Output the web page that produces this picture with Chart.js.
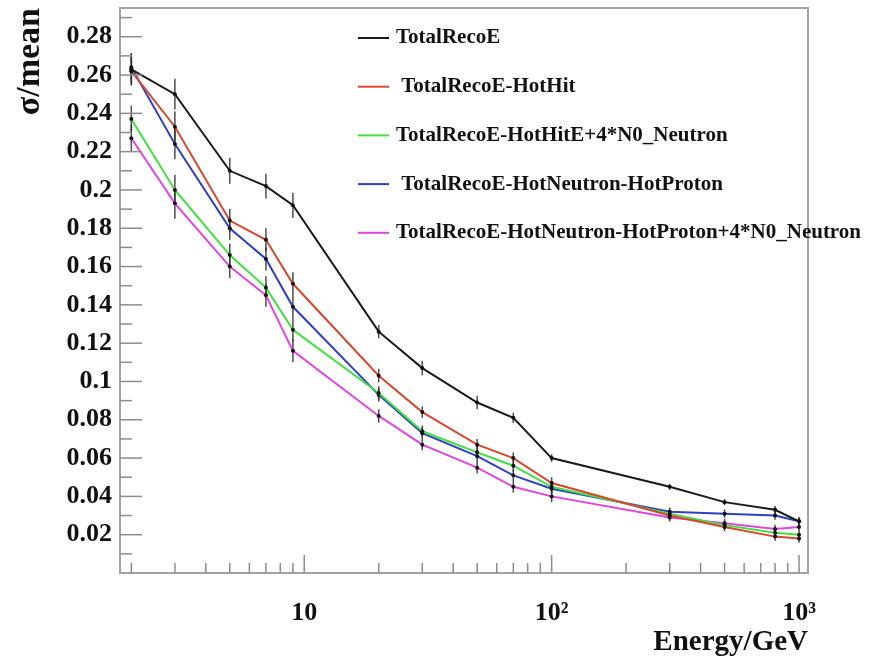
<!DOCTYPE html>
<html>
<head>
<meta charset="utf-8">
<script src="https://cdn.jsdelivr.net/npm/chart.js@4.4.1/dist/chart.umd.min.js"></script>
<style>
  html, body { margin: 0; padding: 0; background: #fff; }
  #wrap { width: 886px; height: 666px; }
</style>
</head>
<body>
<div id="wrap"><canvas id="reso" width="886" height="666"></canvas></div>
<script>
// beam energies (GeV)
const energies = [2, 3, 5, 7, 9, 20, 30, 50, 70, 100, 300, 500, 800, 1000];

// sigma/mean per reconstruction method
const totalRecoE      = [0.263, 0.250, 0.210, 0.202, 0.192, 0.126, 0.107, 0.089, 0.081, 0.060, 0.045, 0.037, 0.033, 0.027];
const minusHotHit     = [0.262, 0.233, 0.184, 0.174, 0.151, 0.103, 0.084, 0.067, 0.060, 0.047, 0.030, 0.024, 0.019, 0.018];
const hotHitPlusN0    = [0.237, 0.200, 0.166, 0.149, 0.127, 0.094, 0.074, 0.063, 0.056, 0.045, 0.031, 0.025, 0.021, 0.020];
const minusHotNP      = [0.264, 0.224, 0.180, 0.164, 0.139, 0.093, 0.073, 0.061, 0.051, 0.044, 0.032, 0.031, 0.030, 0.027];
const hotNPPlusN0     = [0.227, 0.193, 0.160, 0.145, 0.116, 0.082, 0.067, 0.055, 0.045, 0.040, 0.029, 0.026, 0.023, 0.024];

// half-length of the error bars
const errTotal  = [0.0085, 0.008, 0.0068, 0.0065, 0.0066, 0.0035, 0.0038, 0.0035, 0.0027, 0.002, 0.0016, 0.0016, 0.002, 0.002];
const errOthers = [0.007, 0.008, 0.006, 0.006, 0.006, 0.0035, 0.003, 0.003, 0.003, 0.003, 0.0022, 0.0022, 0.0022, 0.0022];

const seriesLabels = [
  'TotalRecoE',
  ' TotalRecoE-HotHit',
  'TotalRecoE-HotHitE+4*N0_Neutron',
  ' TotalRecoE-HotNeutron-HotProton',
  'TotalRecoE-HotNeutron-HotProton+4*N0_Neutron'
];
const seriesColors = ['#1a1a1a', '#d8472f', '#3fe03f', '#2f3fc4', '#e045e0'];

// axis ticks
const yMajorTicks = [0.02, 0.04, 0.06, 0.08, 0.1, 0.12, 0.14, 0.16, 0.18, 0.2, 0.22, 0.24, 0.26, 0.28];
const yMinorTicks = [0.01, 0.03, 0.05, 0.07, 0.09, 0.11, 0.13, 0.15, 0.17, 0.19, 0.21, 0.23, 0.25, 0.27, 0.29];
const xMajorTicks = [10, 100, 1000];
const xTickLabels = ['10', '10\u00b2', '10\u00b3'];
const xMinorTicks = [2, 3, 4, 5, 6, 7, 8, 9, 20, 30, 40, 50, 60, 70, 80, 90, 200, 300, 400, 500, 600, 700, 800, 900];

const serif = 'Liberation Serif, Times New Roman, serif';

const allSeries = [totalRecoE, minusHotHit, hotHitPlusN0, minusHotNP, hotNPPlusN0];
const allErrors = [errTotal, errOthers, errOthers, errOthers, errOthers];

const datasets = allSeries.map((vals, i) => ({
  label: seriesLabels[i],
  data: vals.map((v, j) => ({ x: energies[j], y: v })),
  borderColor: seriesColors[i],
  borderWidth: 2,
  tension: 0,
  pointRadius: 2,
  pointBackgroundColor: '#111',
  pointBorderWidth: 0,
  errors: allErrors[i]
}));

// ROOT-like frame, inside ticks, error bars and in-frame legend
const rootStyle = {
  id: 'rootStyle',
  beforeDatasetsDraw(chart) {
    const ctx = chart.ctx, xa = chart.scales.x, ya = chart.scales.y;
    ctx.save();
    ctx.strokeStyle = 'rgba(45,45,45,0.85)';
    ctx.lineWidth = 1.5;
    chart.data.datasets.forEach(ds => {
      ds.data.forEach((p, j) => {
        const px = xa.getPixelForValue(p.x);
        ctx.beginPath();
        ctx.moveTo(px, ya.getPixelForValue(p.y - ds.errors[j]));
        ctx.lineTo(px, ya.getPixelForValue(p.y + ds.errors[j]));
        ctx.stroke();
      });
    });
    ctx.restore();
  },
  afterDraw(chart) {
    const ctx = chart.ctx, xa = chart.scales.x, ya = chart.scales.y, a = chart.chartArea;
    ctx.save();
    ctx.strokeStyle = '#a3a3a3';
    ctx.lineWidth = 2;
    ctx.strokeRect(a.left, a.top, a.right - a.left, a.bottom - a.top);

    ctx.strokeStyle = '#8c8c8c';
    ctx.lineWidth = 1.5;
    const tick = (x1, y1, x2, y2) => { ctx.beginPath(); ctx.moveTo(x1, y1); ctx.lineTo(x2, y2); ctx.stroke(); };
    yMajorTicks.forEach(v => { const py = ya.getPixelForValue(v); tick(a.left, py, a.left + 22, py); });
    yMinorTicks.forEach(v => { const py = ya.getPixelForValue(v); tick(a.left, py, a.left + 12, py); });
    xMajorTicks.forEach(v => { const px = xa.getPixelForValue(v); tick(px, a.bottom, px, a.bottom - 18); });
    xMinorTicks.forEach(v => { const px = xa.getPixelForValue(v); tick(px, a.bottom, px, a.bottom - 10); });

    // legend
    ctx.font = 'bold 21px ' + serif;
    ctx.textBaseline = 'middle';
    ctx.fillStyle = '#111';
    chart.data.datasets.forEach((ds, i) => {
      const ry = 38 + i * 48.7;
      ctx.strokeStyle = ds.borderColor;
      ctx.lineWidth = 2;
      tick(358, ry, 389, ry);
      ctx.fillText(ds.label, 396, ry);
    });
    ctx.restore();
  }
};

new Chart(document.getElementById('reso'), {
  type: 'line',
  data: { datasets: datasets },
  options: {
    responsive: false,
    animation: false,
    layout: { padding: { left: 0, right: 78, top: 8, bottom: 0 } },
    plugins: { legend: { display: false }, tooltip: { enabled: false } },
    scales: {
      x: {
        type: 'logarithmic',
        min: 1.8,
        max: 1087,
        afterFit: s => { s.height = 93; s.paddingLeft = 0; s.paddingRight = 0; },
        afterBuildTicks: s => { s.ticks = xMajorTicks.map(v => ({ value: v })); },
        grid: { display: false, drawTicks: false },
        border: { display: false },
        ticks: {
          autoSkip: false,
          maxRotation: 0,
          padding: 25,
          color: '#111',
          font: { family: serif, size: 26, weight: 'bold' },
          callback: (v, i) => xTickLabels[i]
        },
        title: {
          display: true,
          text: 'Energy/GeV',
          align: 'end',
          color: '#111',
          font: { family: serif, size: 29, weight: 'bold' },
          padding: { top: 0, bottom: 6 }
        }
      },
      y: {
        min: 0,
        max: 0.295,
        afterFit: s => { s.width = 120; s.paddingTop = 0; s.paddingBottom = 0; },
        afterBuildTicks: s => { s.ticks = yMajorTicks.map(v => ({ value: v })); },
        grid: { display: false, drawTicks: false },
        border: { display: false },
        ticks: {
          padding: 8,
          color: '#111',
          font: { family: serif, size: 26, weight: 'bold' },
          callback: v => String(+v.toFixed(2))
        },
        title: {
          display: true,
          text: '\u03c3/mean',
          align: 'end',
          color: '#111',
          font: { family: serif, size: 34, weight: 'bold' },
          padding: { top: 10, bottom: 0 }
        }
      }
    }
  },
  plugins: [rootStyle]
});
</script>
</body>
</html>
